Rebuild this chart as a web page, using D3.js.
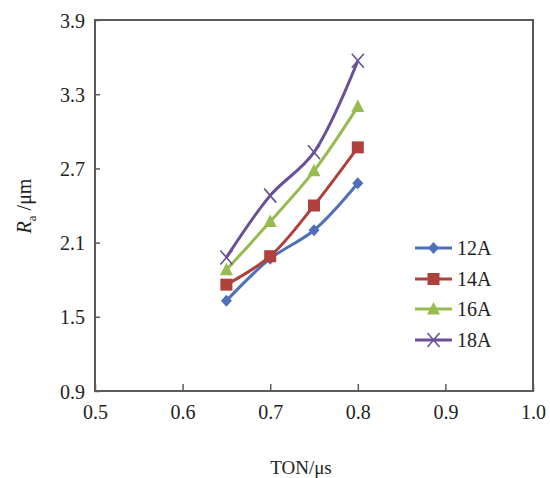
<!DOCTYPE html>
<html>
<head>
<meta charset="utf-8">
<script src="https://cdn.jsdelivr.net/npm/d3@7"></script>
<style>
  body { margin: 0; background: #fff; }
  svg { display: block; }
  text { font-family: "Liberation Serif", "Times New Roman", serif; fill: #222; }
</style>
</head>
<body>
<svg id="chart" width="550" height="478"></svg>
<script>
// Pulse-on time (µs) and surface roughness Ra (µm) for four currents
const tonValues = [0.65, 0.7, 0.75, 0.8];
const ra12A = [1.63, 1.97, 2.20, 2.58];
const ra14A = [1.76, 1.99, 2.40, 2.87];
const ra16A = [1.88, 2.27, 2.68, 3.20];
const ra18A = [1.98, 2.48, 2.83, 3.57];
const seriesNames = ["12A", "14A", "16A", "18A"];
const xTicks = [0.5, 0.6, 0.7, 0.8, 0.9, 1.0];
const yTicks = [0.9, 1.5, 2.1, 2.7, 3.3, 3.9];

const series = [
  { name: seriesNames[0], values: ra12A, color: "#4f6fb8", marker: "diamond" },
  { name: seriesNames[1], values: ra14A, color: "#b0403c", marker: "square" },
  { name: seriesNames[2], values: ra16A, color: "#97bb4f", marker: "triangle" },
  { name: seriesNames[3], values: ra18A, color: "#6a4f99", marker: "cross" }
];

const svg = d3.select("#chart");
const plotLeft = 95, plotRight = 533, plotTop = 20, plotBottom = 391;

const x = d3.scaleLinear().domain([0.5, 1.0]).range([plotLeft, plotRight]);
const y = d3.scaleLinear().domain([0.9, 3.9]).range([plotBottom, plotTop]);

// Frame
svg.append("rect")
  .attr("x", plotLeft).attr("y", plotTop)
  .attr("width", plotRight - plotLeft).attr("height", plotBottom - plotTop)
  .attr("fill", "none").attr("stroke", "#5a5a5a").attr("stroke-width", 2);

// Axes with inward ticks
const xAxis = svg.append("g")
  .attr("transform", `translate(0,${plotBottom})`)
  .call(d3.axisBottom(x).tickValues(xTicks).tickSize(-7).tickPadding(14)
    .tickFormat(d3.format(".1f")));
const yAxis = svg.append("g")
  .attr("transform", `translate(${plotLeft},0)`)
  .call(d3.axisLeft(y).tickValues(yTicks).tickSize(-5).tickPadding(10)
    .tickFormat(d3.format(".1f")));

[xAxis, yAxis].forEach(g => {
  g.select(".domain").remove();
  g.selectAll(".tick line").attr("stroke", "#5a5a5a").attr("stroke-width", 1.5);
  g.selectAll(".tick text")
    .style("font-family", "'Liberation Serif', 'Times New Roman', serif")
    .style("font-size", "20px").attr("fill", "#333");
});
yAxis.selectAll(".tick text").attr("dy", "0.35em");

// Axis titles
svg.append("text")
  .attr("x", 301).attr("y", 474)
  .attr("text-anchor", "middle")
  .style("font-size", "19px")
  .text("TON/μs");

const yTitle = svg.append("text")
  .attr("transform", "translate(31,206) rotate(-90)")
  .attr("text-anchor", "middle")
  .style("font-size", "20px");
yTitle.append("tspan").attr("font-style", "italic").text("R");
yTitle.append("tspan").attr("dy", 5).style("font-size", "13px").text("a");
yTitle.append("tspan").attr("dy", -5).text(" /μm");

// Marker shapes
function drawMarker(g, type, color, cx, cy) {
  if (type === "diamond") {
    g.append("path")
      .attr("d", `M${cx},${cy - 6}L${cx + 5.5},${cy}L${cx},${cy + 6}L${cx - 5.5},${cy}Z`)
      .attr("fill", color);
  } else if (type === "square") {
    g.append("rect")
      .attr("x", cx - 6).attr("y", cy - 6).attr("width", 12).attr("height", 12)
      .attr("fill", color);
  } else if (type === "triangle") {
    g.append("path")
      .attr("d", `M${cx},${cy - 7}L${cx + 6.5},${cy + 5.5}L${cx - 6.5},${cy + 5.5}Z`)
      .attr("fill", color);
  } else {
    g.append("path")
      .attr("d", `M${cx - 6},${cy - 7}L${cx + 6},${cy + 7}M${cx + 6},${cy - 7}L${cx - 6},${cy + 7}`)
      .attr("stroke", color).attr("stroke-width", 1.6).attr("fill", "none");
  }
}

const line = d3.line()
  .x((d, i) => x(tonValues[i]))
  .y(d => y(d))
  .curve(d3.curveCatmullRom.alpha(0.5));

series.forEach(s => {
  const g = svg.append("g");
  g.append("path")
    .datum(s.values)
    .attr("d", line)
    .attr("fill", "none")
    .attr("stroke", s.color)
    .attr("stroke-width", 3);
  s.values.forEach((v, i) => drawMarker(g, s.marker, s.color, x(tonValues[i]), y(v)));
});

// Legend
const legendY = [248, 279, 309, 340];
series.forEach((s, i) => {
  const g = svg.append("g");
  const ly = legendY[i];
  g.append("line")
    .attr("x1", 415).attr("x2", 452).attr("y1", ly).attr("y2", ly)
    .attr("stroke", s.color).attr("stroke-width", 3);
  drawMarker(g, s.marker, s.color, 433.5, ly);
  g.append("text")
    .attr("x", 457).attr("y", ly).attr("dy", "0.35em")
    .style("font-size", "20px")
    .text(s.name);
});
</script>
</body>
</html>
